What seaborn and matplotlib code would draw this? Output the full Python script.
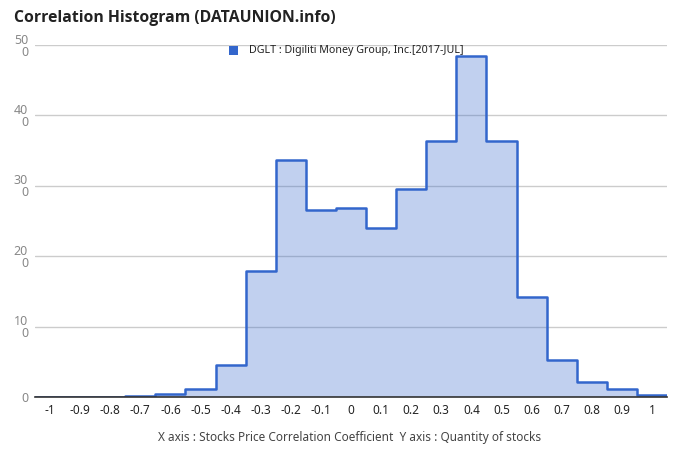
import matplotlib
matplotlib.use("Agg")
import matplotlib.pyplot as plt
import seaborn as sns
import numpy as np
import pandas as pd

# ---- data ----
bin_centers = [-1.0, -0.9, -0.8, -0.7, -0.6, -0.5, -0.4, -0.3, -0.2, -0.1,
               0.0, 0.1, 0.2, 0.3, 0.4, 0.5, 0.6, 0.7, 0.8, 0.9, 1.0]
counts = [0, 0, 0, 1, 4, 11, 45, 179, 337, 266,
          269, 240, 296, 363, 484, 363, 142, 52, 22, 11, 3]
x_ticks = [-1, -0.9, -0.8, -0.7, -0.6, -0.5, -0.4, -0.3, -0.2, -0.1,
           0, 0.1, 0.2, 0.3, 0.4, 0.5, 0.6, 0.7, 0.8, 0.9, 1]
x_tick_labels = ["-1", "-0.9", "-0.8", "-0.7", "-0.6", "-0.5", "-0.4", "-0.3", "-0.2", "-0.1",
                 "0", "0.1", "0.2", "0.3", "0.4", "0.5", "0.6", "0.7", "0.8", "0.9", "1"]
y_ticks = [0, 100, 200, 300, 400, 500]
y_tick_labels = ["0", "10\n0", "20\n0", "30\n0", "40\n0", "50\n0"]
title = "Correlation Histogram (DATAUNION.info)"
legend_label = "DGLT : Digiliti Money Group, Inc.[2017-JUL]"
axis_note = "X axis : Stocks Price Correlation Coefficient  Y axis : Quantity of stocks"

sns.set_theme(style="white")
plt.rcParams["font.family"] = ["Noto Sans", "DejaVu Sans"]

df = pd.DataFrame({"corr": bin_centers, "n": counts})
bin_width = 0.1
edges = [round(c - bin_width / 2, 3) for c in bin_centers] + [round(bin_centers[-1] + bin_width / 2, 3)]

color = "#3366CC"
fig = plt.figure(figsize=(6.8, 4.62), dpi=100)
ax = fig.add_axes([35 / 680, 1 - 397 / 462, (667 - 35) / 680, (397 - 45) / 462])

sns.histplot(data=df, x="corr", weights="n", bins=edges, element="step",
             fill=True, color=color, alpha=0.3, linewidth=0, ax=ax)
sns.histplot(data=df, x="corr", weights="n", bins=edges, element="step",
             fill=False, color=color, linewidth=1.8, ax=ax)

ax.set_xlim(edges[0], edges[-1])
ax.set_ylim(0, 500)
ax.set_xticks(x_ticks)
ax.set_xticklabels(x_tick_labels)
ax.set_yticks(y_ticks)
ax.set_yticklabels(y_tick_labels, linespacing=0.9)
ax.tick_params(axis="x", length=0, pad=5, labelsize=8.5, labelcolor="#222222")
ax.tick_params(axis="y", length=0, pad=5, labelsize=9, labelcolor="#888888")
ax.set_xlabel("")
ax.set_ylabel("")

ax.yaxis.grid(True, color="#CCCCCC", linewidth=1)
ax.xaxis.grid(False)
ax.set_axisbelow(True)
for s in ["top", "right", "left"]:
    ax.spines[s].set_visible(False)
ax.spines["bottom"].set_color("#333333")
ax.spines["bottom"].set_linewidth(1.2)
ax.spines["bottom"].set_zorder(5)

fig.text(14 / 680, 1 - 18 / 462, title, fontsize=11.3, fontweight="bold",
         family=["Open Sans", "DejaVu Sans"],
         color="#222222", ha="left", va="center")

# legend
fig.patches.append(plt.Rectangle((229 / 680, 1 - 55 / 462), 9 / 680, 9 / 462,
                                 transform=fig.transFigure, facecolor=color,
                                 edgecolor="none"))
fig.text(249 / 680, 1 - 50 / 462, legend_label, fontsize=7.7, color="#222222",
         ha="left", va="center")

fig.text(350 / 680, 1 - 438 / 462, axis_note, fontsize=8.5, color="#444444",
         ha="center", va="center")

fig.savefig("out.png", dpi=100)
